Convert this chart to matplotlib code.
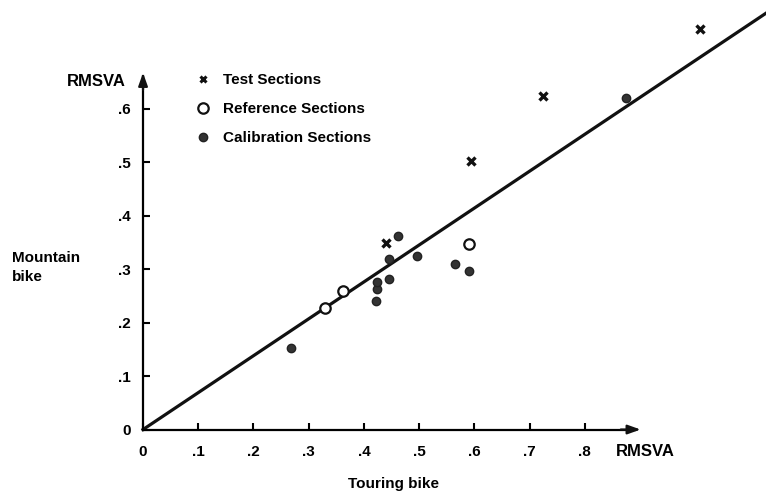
import matplotlib
matplotlib.use('Agg')
import matplotlib.pyplot as plt
from matplotlib.lines import Line2D
from matplotlib.ticker import FuncFormatter

# RMSVA pairs: touring bike (x) vs mountain bike (y)
test_x = [0.440, 0.594, 0.725, 1.009]
test_y = [0.349, 0.502, 0.624, 0.749]
ref_x = [0.329, 0.362, 0.591]
ref_y = [0.227, 0.259, 0.347]
cal_x = [0.268, 0.422, 0.424, 0.424, 0.446, 0.446, 0.461, 0.496, 0.564, 0.591, 0.875]
cal_y = [0.152, 0.240, 0.262, 0.275, 0.281, 0.318, 0.362, 0.325, 0.310, 0.297, 0.619]
fit_slope = 0.69
x_ticks = [0, 0.1, 0.2, 0.3, 0.4, 0.5, 0.6, 0.7, 0.8]
y_ticks = [0, 0.1, 0.2, 0.3, 0.4, 0.5, 0.6]

plt.rcParams['font.family'] = ['Liberation Sans', 'DejaVu Sans']
plt.rcParams['font.weight'] = 'bold'
plt.rcParams['font.size'] = 11

fig = plt.figure(figsize=(7.66, 4.98), dpi=100)
ax = fig.add_axes([0, 0, 1, 1])
ax.set_xlim(-0.259, 1.128)
ax.set_ylim(-0.128, 0.803)

# axes through the origin
for side in ('top', 'right'):
    ax.spines[side].set_visible(False)
ax.spines['left'].set_position(('data', 0))
ax.spines['bottom'].set_position(('data', 0))
ax.spines['left'].set_bounds(0, 0.66)
ax.spines['bottom'].set_bounds(0, 0.89)
ax.spines['left'].set_linewidth(1.6)
ax.spines['bottom'].set_linewidth(1.6)
ax.annotate('', xy=(0.906, 0), xytext=(0.86, 0),
            arrowprops=dict(arrowstyle='-|>,head_length=0.7,head_width=0.25',
                            color='#111111', lw=1.6))
ax.annotate('', xy=(0, 0.672), xytext=(0, 0.63),
            arrowprops=dict(arrowstyle='-|>,head_length=0.7,head_width=0.25',
                            color='#111111', lw=1.6))

fmt = FuncFormatter(lambda v, pos: '0' if v == 0 else ('%.1f' % v)[1:])
ax.set_xticks(x_ticks)
ax.set_yticks(y_ticks)
ax.xaxis.set_major_formatter(fmt)
ax.yaxis.set_major_formatter(fmt)
ax.tick_params(axis='x', direction='in', length=5, width=1.5, pad=11, labelsize=11)
ax.tick_params(axis='y', direction='in', length=5, width=1.5, pad=9, labelsize=11)
for lbl in ax.get_xticklabels() + ax.get_yticklabels():
    lbl.set_fontweight('bold')

# fitted line through origin
line_x = [0, 1.2]
ax.plot(line_x, [fit_slope * v for v in line_x], color='#111111', lw=2.3, zorder=2)

ax.plot(cal_x, cal_y, 'o', color='#333333', ms=6, mec='#222222', zorder=3)
ax.plot(ref_x, ref_y, 'o', color='white', ms=7.5, mec='#111111', mew=1.6, zorder=3)
ax.plot(test_x, test_y, 'x', color='#111111', ms=5.5, mew=2.4, zorder=3)

ax.text(0.909, -0.042, 'RMSVA', ha='center', va='center', fontweight='bold', fontsize=12)
ax.text(0.453, -0.101, 'Touring bike', ha='center', va='center', fontweight='bold')
ax.text(-0.237, 0.303, 'Mountain\nbike', ha='left', va='center', fontweight='bold',
        linespacing=1.5)
ax.text(-0.031, 0.650, 'RMSVA', ha='right', va='center', fontweight='bold', fontsize=12)

handles = [
    Line2D([], [], ls='none', marker='x', color='#111111', ms=5, mew=2.2),
    Line2D([], [], ls='none', marker='o', color='white', ms=7.5, mec='#111111', mew=1.6),
    Line2D([], [], ls='none', marker='o', color='#333333', ms=6, mec='#222222'),
]
labels = ['Test Sections', 'Reference Sections', 'Calibration Sections']
leg = ax.legend(handles, labels, loc='upper left', bbox_to_anchor=(0.245, 0.869),
                bbox_transform=fig.transFigure, frameon=False, borderpad=0,
                handlelength=1.0, handletextpad=0.8, labelspacing=1.0,
                prop={'weight': 'bold', 'size': 11})

fig.savefig('out.png', dpi=100)
